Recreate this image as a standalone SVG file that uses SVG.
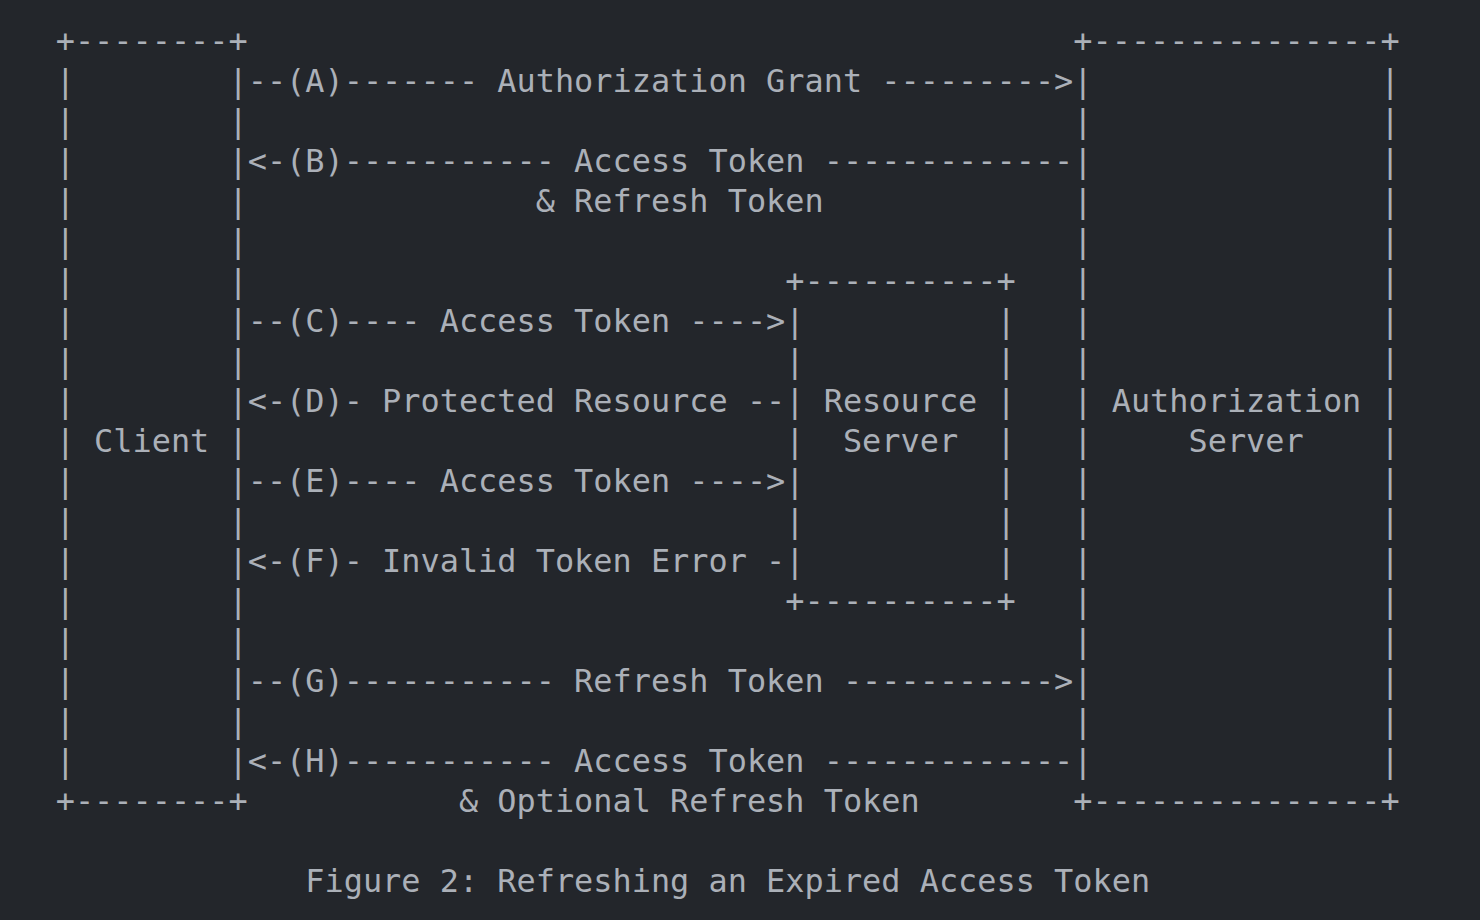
<svg xmlns="http://www.w3.org/2000/svg" width="1480" height="920" viewBox="0 0 1480 920">
<style>
.t{font-family:"DejaVu Sans Mono","Liberation Mono",monospace;font-size:31.9px;fill:#abb0b8;}
</style>
<rect x="0" y="0" width="1480" height="920" fill="#23262b"/>
<g transform="translate(1,0)">
<g id="node-client">
<text class="t"><tspan x="54.7" y="52">+--------+</tspan><tspan x="54.7" y="812">+--------+</tspan></text>
<text class="t"><tspan x="54.7" y="92">|</tspan><tspan x="54.7" y="132">|</tspan><tspan x="54.7" y="172">|</tspan><tspan x="54.7" y="212">|</tspan><tspan x="54.7" y="252">|</tspan><tspan x="54.7" y="292">|</tspan><tspan x="54.7" y="332">|</tspan><tspan x="54.7" y="372">|</tspan><tspan x="54.7" y="412">|</tspan><tspan x="54.7" y="452">|</tspan><tspan x="54.7" y="492">|</tspan><tspan x="54.7" y="532">|</tspan><tspan x="54.7" y="572">|</tspan><tspan x="54.7" y="612">|</tspan><tspan x="54.7" y="652">|</tspan><tspan x="54.7" y="692">|</tspan><tspan x="54.7" y="732">|</tspan><tspan x="54.7" y="772">|</tspan></text>
<text class="t"><tspan x="227.5" y="92">|</tspan><tspan x="227.5" y="132">|</tspan><tspan x="227.5" y="172">|</tspan><tspan x="227.5" y="212">|</tspan><tspan x="227.5" y="252">|</tspan><tspan x="227.5" y="292">|</tspan><tspan x="227.5" y="332">|</tspan><tspan x="227.5" y="372">|</tspan><tspan x="227.5" y="412">|</tspan><tspan x="227.5" y="452">|</tspan><tspan x="227.5" y="492">|</tspan><tspan x="227.5" y="532">|</tspan><tspan x="227.5" y="572">|</tspan><tspan x="227.5" y="612">|</tspan><tspan x="227.5" y="652">|</tspan><tspan x="227.5" y="692">|</tspan><tspan x="227.5" y="732">|</tspan><tspan x="227.5" y="772">|</tspan></text>
<text class="t" x="93.1" y="452">Client</text>
</g>
<g id="node-resource-server">
<text class="t"><tspan x="784.3" y="292">+----------+</tspan><tspan x="784.3" y="612">+----------+</tspan></text>
<text class="t"><tspan x="784.3" y="332">|</tspan><tspan x="784.3" y="372">|</tspan><tspan x="784.3" y="412">|</tspan><tspan x="784.3" y="452">|</tspan><tspan x="784.3" y="492">|</tspan><tspan x="784.3" y="532">|</tspan><tspan x="784.3" y="572">|</tspan></text>
<text class="t"><tspan x="995.5" y="332">|</tspan><tspan x="995.5" y="372">|</tspan><tspan x="995.5" y="412">|</tspan><tspan x="995.5" y="452">|</tspan><tspan x="995.5" y="492">|</tspan><tspan x="995.5" y="532">|</tspan><tspan x="995.5" y="572">|</tspan></text>
<text class="t"><tspan x="822.7" y="412">Resource</tspan><tspan x="841.9" y="452">Server</tspan></text>
</g>
<g id="node-authorization-server">
<text class="t"><tspan x="1072.3" y="52">+---------------+</tspan><tspan x="1072.3" y="812">+---------------+</tspan></text>
<text class="t"><tspan x="1072.3" y="92">|</tspan><tspan x="1072.3" y="132">|</tspan><tspan x="1072.3" y="172">|</tspan><tspan x="1072.3" y="212">|</tspan><tspan x="1072.3" y="252">|</tspan><tspan x="1072.3" y="292">|</tspan><tspan x="1072.3" y="332">|</tspan><tspan x="1072.3" y="372">|</tspan><tspan x="1072.3" y="412">|</tspan><tspan x="1072.3" y="452">|</tspan><tspan x="1072.3" y="492">|</tspan><tspan x="1072.3" y="532">|</tspan><tspan x="1072.3" y="572">|</tspan><tspan x="1072.3" y="612">|</tspan><tspan x="1072.3" y="652">|</tspan><tspan x="1072.3" y="692">|</tspan><tspan x="1072.3" y="732">|</tspan><tspan x="1072.3" y="772">|</tspan></text>
<text class="t"><tspan x="1379.5" y="92">|</tspan><tspan x="1379.5" y="132">|</tspan><tspan x="1379.5" y="172">|</tspan><tspan x="1379.5" y="212">|</tspan><tspan x="1379.5" y="252">|</tspan><tspan x="1379.5" y="292">|</tspan><tspan x="1379.5" y="332">|</tspan><tspan x="1379.5" y="372">|</tspan><tspan x="1379.5" y="412">|</tspan><tspan x="1379.5" y="452">|</tspan><tspan x="1379.5" y="492">|</tspan><tspan x="1379.5" y="532">|</tspan><tspan x="1379.5" y="572">|</tspan><tspan x="1379.5" y="612">|</tspan><tspan x="1379.5" y="652">|</tspan><tspan x="1379.5" y="692">|</tspan><tspan x="1379.5" y="732">|</tspan><tspan x="1379.5" y="772">|</tspan></text>
<text class="t"><tspan x="1110.7" y="412">Authorization</tspan><tspan x="1187.5" y="452">Server</tspan></text>
</g>
<g id="connectors">
<text class="t" id="edge-A" x="246.7" y="92">--(A)------- Authorization Grant ---------&gt;</text>
<text class="t" id="edge-B" x="246.7" y="172">&lt;-(B)----------- Access Token -------------</text>
<text class="t" x="534.7" y="212">&amp; Refresh Token</text>
<text class="t" id="edge-C" x="246.7" y="332">--(C)---- Access Token ----&gt;</text>
<text class="t" id="edge-D" x="246.7" y="412">&lt;-(D)- Protected Resource --</text>
<text class="t" id="edge-E" x="246.7" y="492">--(E)---- Access Token ----&gt;</text>
<text class="t" id="edge-F" x="246.7" y="572">&lt;-(F)- Invalid Token Error -</text>
<text class="t" id="edge-G" x="246.7" y="692">--(G)----------- Refresh Token -----------&gt;</text>
<text class="t" id="edge-H" x="246.7" y="772">&lt;-(H)----------- Access Token -------------</text>
<text class="t" x="457.9" y="812">&amp; Optional Refresh Token</text>
</g>
<text class="t" id="caption" x="304.3" y="892">Figure 2: Refreshing an Expired Access Token</text>
</g>
</svg>
